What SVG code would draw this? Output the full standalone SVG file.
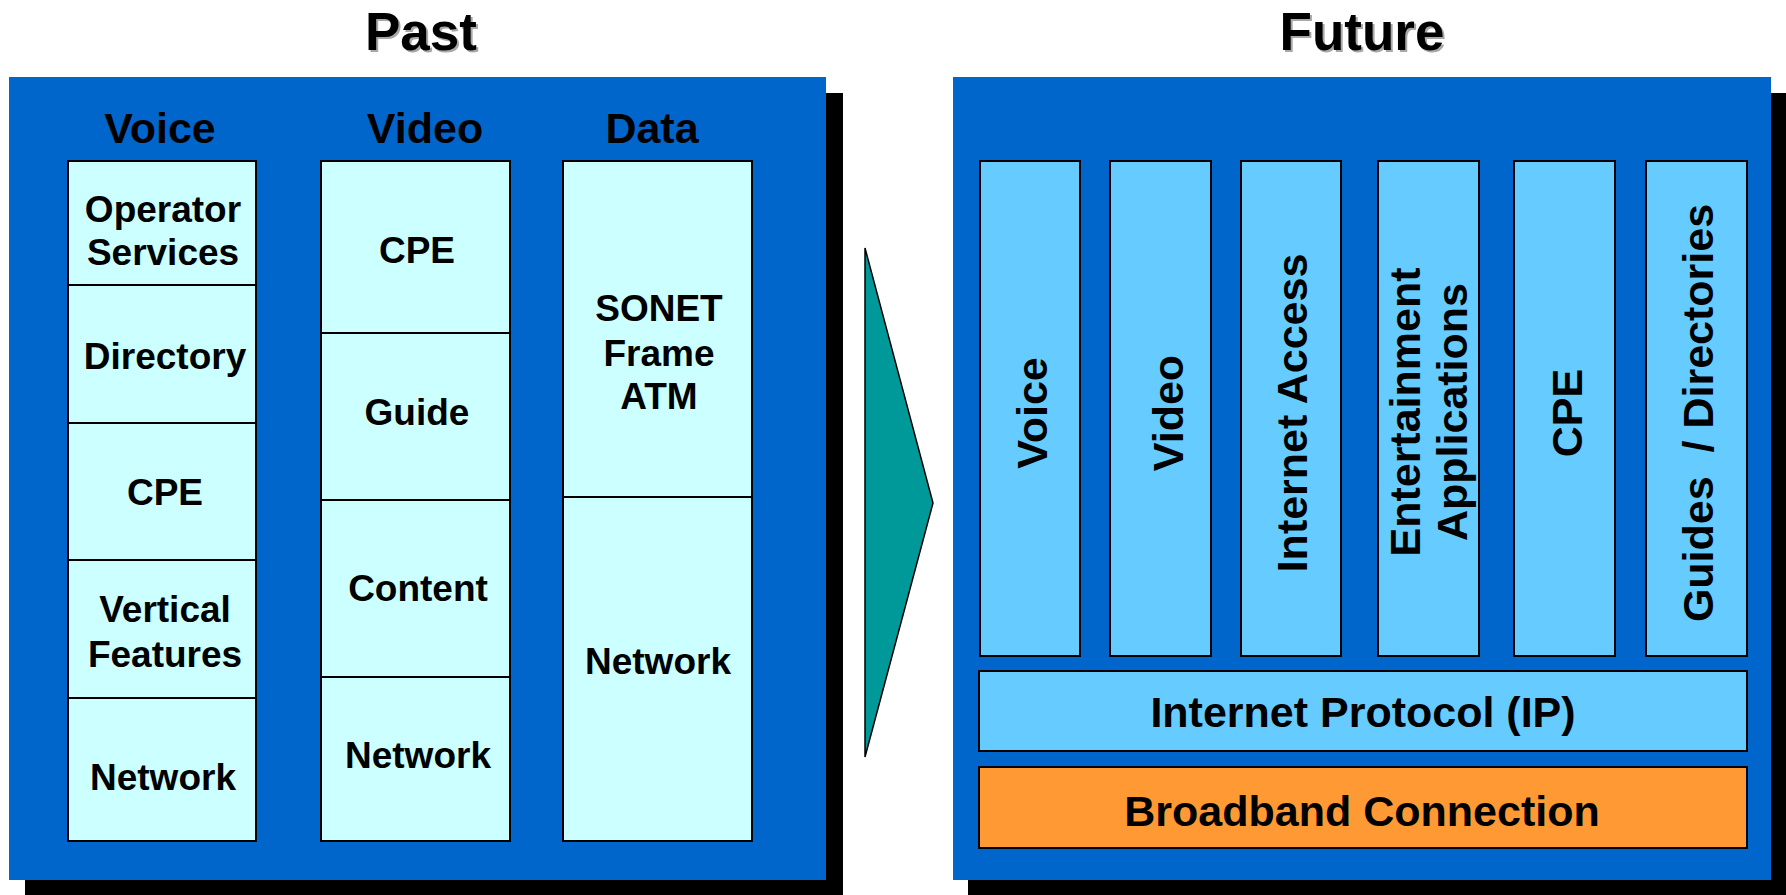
<svg xmlns="http://www.w3.org/2000/svg" width="1786" height="895" viewBox="0 0 1786 895">
<style>
text{font-family:"Liberation Sans",Arial,sans-serif;font-weight:bold;fill:#000;text-anchor:middle}
.title{font-size:53px}
.shadow{fill:#a8a8a8}
.hdr{font-size:43px}
.t36{font-size:37px}
.t42{font-size:43px}
.panel{fill:#0066CC}
.drop{fill:#000}
.cell{fill:#CCFFFF;stroke:#000;stroke-width:2}
.col{fill:#66CCFF;stroke:#000;stroke-width:2}
.bb{fill:#FF9933;stroke:#000;stroke-width:2}
.div{stroke:#000;stroke-width:2;fill:none}
</style>
<rect width="1786" height="895" fill="#fff"/>

<g id="title-past">
<text class="title shadow" x="423" y="52">Past</text>
<text class="title" x="421" y="50">Past</text>
</g>
<g id="title-future">
<text class="title shadow" x="1364" y="52">Future</text>
<text class="title" x="1362" y="50">Future</text>
</g>

<g id="past-panel">
<rect class="drop" x="25" y="93" width="818" height="803"/>
<rect class="panel" x="9" y="77" width="817" height="803"/>
<text class="hdr" x="160" y="143">Voice</text>
<text class="hdr" x="425" y="143">Video</text>
<text class="hdr" x="652" y="143">Data</text>
</g>

<g id="voice-column">
<rect class="cell" x="68" y="161" width="188" height="680"/>
<path class="div" d="M68 285H257M68 423H256M68 560H256M68 698H257"/>
<text class="t36" x="163" y="222">Operator</text>
<text class="t36" x="163" y="265">Services</text>
<text class="t36" x="165" y="369">Directory</text>
<text class="t36" x="165" y="505">CPE</text>
<text class="t36" x="165" y="622">Vertical</text>
<text class="t36" x="165" y="667">Features</text>
<text class="t36" x="163" y="790">Network</text>
</g>

<g id="video-column">
<rect class="cell" x="321" y="161" width="189" height="680"/>
<path class="div" d="M321 333H510M321 500H510M321 677H510"/>
<text class="t36" x="417" y="263">CPE</text>
<text class="t36" x="417" y="425">Guide</text>
<text class="t36" x="418" y="601">Content</text>
<text class="t36" x="418" y="768">Network</text>
</g>

<g id="data-column">
<rect class="cell" x="563" y="161" width="189" height="680"/>
<path class="div" d="M563 497H752"/>
<text class="t36" x="659" y="321">SONET</text>
<text class="t36" x="659" y="366">Frame</text>
<text class="t36" x="659" y="409">ATM</text>
<text class="t36" x="658" y="674">Network</text>
</g>

<g id="connectors">
<polygon points="865,248 933,503 865,757" fill="#009999" stroke="#000" stroke-width="1.5"/>
</g>

<g id="future-panel">
<rect class="drop" x="968" y="93" width="818" height="803"/>
<rect class="panel" x="953" y="77" width="818" height="803"/>
</g>

<g id="f-voice">
<rect class="col" x="980" y="161" width="100" height="495"/>
<text class="t42" transform="translate(1047,413) rotate(-90)">Voice</text>
</g>
<g id="f-video">
<rect class="col" x="1110" y="161" width="101" height="495"/>
<text class="t42" transform="translate(1183,413) rotate(-90)">Video</text>
</g>
<g id="f-internet">
<rect class="col" x="1241" y="161" width="100" height="495"/>
<text class="t42" transform="translate(1307,413) rotate(-90)">Internet Access</text>
</g>
<g id="f-entertainment">
<rect class="col" x="1378" y="161" width="101" height="495"/>
<text class="t42" transform="translate(1420,412) rotate(-90)">Entertainment</text>
<text class="t42" transform="translate(1467,412) rotate(-90)">Applications</text>
</g>
<g id="f-cpe">
<rect class="col" x="1514" y="161" width="101" height="495"/>
<text class="t42" transform="translate(1582,413) rotate(-90)">CPE</text>
</g>
<g id="f-guides">
<rect class="col" x="1646" y="161" width="101" height="495"/>
<text class="t42" transform="translate(1713,413) rotate(-90)" xml:space="preserve" style="white-space:pre">Guides  / Directories</text>
</g>
<g id="f-ip">
<rect class="col" x="979" y="671" width="768" height="80"/>
<text class="t42" x="1363" y="727">Internet Protocol (IP)</text>
</g>
<g id="f-broadband">
<rect class="bb" x="979" y="767" width="768" height="81"/>
<text class="t42" x="1362" y="826">Broadband Connection</text>
</g>
</svg>
